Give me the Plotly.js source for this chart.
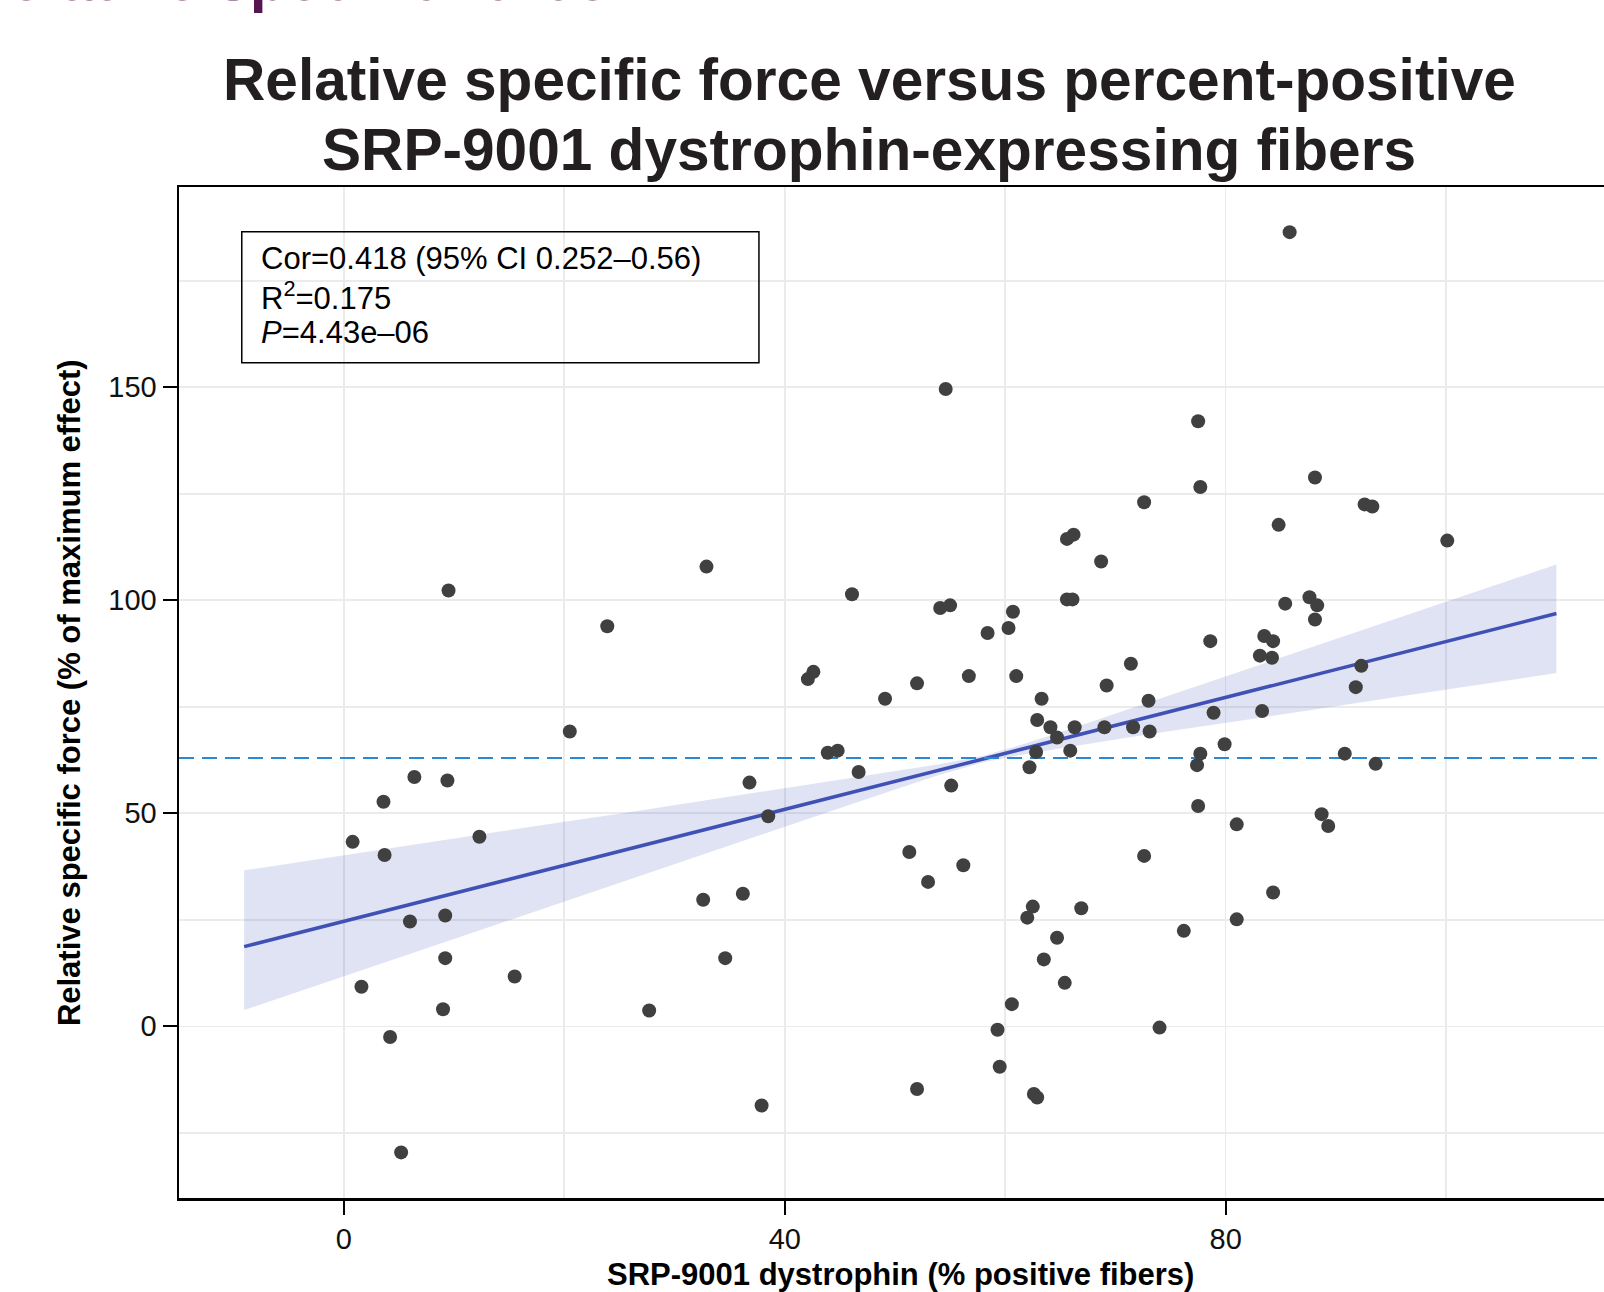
<!DOCTYPE html>
<html>
<head>
<meta charset="utf-8">
<script src="https://cdn.plot.ly/plotly-3.0.1.min.js"></script>
<style>
html,body{margin:0;padding:0;overflow:hidden;background:#fff;width:1604px;height:1292px;}
#chart{position:absolute;left:0;top:-60px;width:1640px;height:1352px;}
</style>
</head>
<body>
<div id="chart"></div>
<script>
// ---- data ----
const ptX = [0.8,1.6,3.6,3.7,4.2,5.2,6.0,6.4,9.0,9.2,9.2,9.4,9.5,12.3,15.5,20.5,23.9,27.7,32.6,32.9,
  34.6,36.2,36.8,37.9,38.5,42.1,42.6,43.9,44.8,46.1,46.7,49.1,51.3,52.0,52.0,53.0,54.1,54.6,55.0,55.1,
  56.2,56.7,58.4,59.3,59.5,60.3,60.6,60.7,61.0,62.0,62.2,62.5,62.6,62.8,62.9,62.9,63.3,63.5,64.1,64.7,
  64.7,65.4,65.6,65.6,65.9,66.1,66.2,66.3,66.9,68.7,69.0,69.2,71.4,71.6,72.6,72.6,73.0,73.1,74.0,76.2,
  77.4,77.5,77.5,77.7,77.7,78.6,78.9,79.9,81.0,81.0,83.1,83.3,83.5,84.3,84.2,84.3,84.8,85.4,85.8,87.6,
  88.1,88.1,88.3,88.7,89.3,90.8,91.8,92.3,92.6,93.3,93.6,100.1];
const ptY = [43.3,9.3,52.7,40.2,-2.5,-29.6,24.6,58.5,4.0,26.0,16.0,57.7,102.3,44.5,11.7,69.2,93.9,3.7,29.7,107.9,
  16.0,31.1,57.2,-18.6,49.3,81.5,83.2,64.2,64.7,101.4,59.7,76.9,40.9,80.5,-14.7,33.9,98.2,149.6,98.8,56.5,
  37.8,82.2,92.3,-0.8,-9.5,93.5,5.2,97.3,82.2,25.5,60.8,28.1,-15.9,64.4,-16.7,71.9,76.9,15.7,70.2,67.8,
  20.8,10.2,114.4,100.2,64.7,100.2,115.4,70.2,27.7,109.1,70.2,80.0,85.1,70.2,123.0,40.0,76.4,69.2,-0.3,22.4,
  61.3,51.7,142.0,126.6,64.0,90.4,73.6,66.2,47.4,25.1,87.0,74.0,91.6,90.4,86.5,31.4,117.7,99.2,186.4,100.7,
  128.8,95.5,98.8,49.8,47.0,64.0,79.6,84.6,122.5,122.0,61.6,114.0];

// fitted line and its confidence band
const fitX = [-9.04, 110.0];
const fitY = [18.7, 96.9];

const bandX  = [-9.04, -5, 0, 5, 10, 15, 20, 25, 30, 35, 40, 45, 50, 54, 58, 62, 66, 70, 75, 80, 85, 90, 95, 100, 105, 110];
const bandLo = [3.8, 7.3, 11.7, 16.1, 20.5, 24.9, 29.3, 33.7, 38.1, 42.5, 46.8, 51.2, 55.6, 59.0, 62.0,
                64.0, 65.7, 67.3, 69.3, 71.2, 73.2, 75.1, 77.1, 79.0, 81.0, 82.9];
const bandHi = [36.6, 38.2, 40.2, 42.1, 44.1, 46.0, 48.0, 49.9, 51.9, 53.8, 55.8, 57.8, 59.8, 61.5, 63.5,
                66.5, 69.9, 73.4, 77.8, 82.1, 86.5, 90.9, 95.3, 99.7, 104.0, 108.4];

const refY = 63.0;

const xTicks = [0, 40, 80];
const yTicks = [0, 50, 100, 150];
const xRange = [-14.95, 115.95];
const yRange = [-40.3, 197.0];

const titleLines = ["Relative specific force versus percent-positive",
                    "SRP-9001 dystrophin-expressing fibers"];
const xTitle = "SRP-9001 dystrophin (% positive fibers)";
const yTitle = "Relative specific force (% of maximum effect)";
const statsLines = ["Cor=0.418 (95% CI 0.252\u20130.56)", "R<sup>2</sup>=0.175", "<i>P</i>=4.43e\u201306"];
const headingText = "Relative specific force";

// ---- drawing ----
const FONT = "Liberation Sans, Arial, Helvetica, sans-serif";
const band = {
  x: bandX.concat(bandX.slice().reverse()),
  y: bandHi.concat(bandLo.slice().reverse()),
  type: 'scatter', mode: 'lines', fill: 'toself',
  fillcolor: 'rgba(63,81,181,0.16)', line: {width: 0}, hoverinfo: 'skip', showlegend: false
};
const fit = {x: fitX, y: fitY, type: 'scatter', mode: 'lines',
  line: {color: '#3F51B5', width: 3.5}, showlegend: false};
const ref = {x: xRange, y: [refY, refY], type: 'scatter', mode: 'lines',
  line: {color: '#2B89D4', width: 2, dash: '15px,8px'}, showlegend: false};
const pts = {x: ptX, y: ptY, type: 'scatter', mode: 'markers',
  marker: {size: 14, color: '#404040'}, showlegend: false};

const axisCommon = {
  showline: true, linecolor: '#000', linewidth: 2.5, mirror: true,
  ticks: 'outside', ticklen: 14, tickwidth: 2, tickcolor: '#000',
  tickfont: {family: FONT, size: 29, color: '#111'},
  showgrid: true, gridcolor: '#EBEBEB', gridwidth: 1.6, zeroline: false
};

const statsY = [0.9291, 0.8922, 0.8560];
const statsAnn = statsLines.map((t, i) => ({
  text: t, xref: 'paper', yref: 'paper', x: 0.0568, y: statsY[i], xanchor: 'left', yanchor: 'middle',
  align: 'left', showarrow: false, borderpad: 0, borderwidth: 0,
  font: {family: FONT, size: 31, color: '#000'}
}));

const layout = {
  width: 1640, height: 1352,
  margin: {l: 179, r: 18, t: 247, b: 94},
  paper_bgcolor: '#fff', plot_bgcolor: '#fff',
  showlegend: false,
  xaxis: Object.assign({}, axisCommon, {
    range: xRange, tickmode: 'array', tickvals: xTicks, ticktext: xTicks.map(String),
    minor: {dtick: 20, tick0: 0, showgrid: true, gridcolor: '#EBEBEB', gridwidth: 1.6}
  }),
  yaxis: Object.assign({}, axisCommon, {
    range: yRange, tickmode: 'array', tickvals: yTicks, ticktext: yTicks.map(String),
    minor: {dtick: 25, tick0: 0, showgrid: true, gridcolor: '#EBEBEB', gridwidth: 1.6}
  }),
  shapes: [{type: 'rect', xref: 'paper', yref: 'paper', x0: 0.0435, x1: 0.4019, y0: 0.8262, y1: 0.9558,
    line: {color: '#000', width: 1.5}, fillcolor: 'rgba(255,255,255,0)'}],
  annotations: [
    {text: titleLines[0], xref: 'paper', yref: 'paper', x: 0.4782, y: 1.1385, xanchor: 'center', yanchor: 'top',
     showarrow: false, borderpad: 0, borderwidth: 0, font: {family: FONT, size: 58.6, color: '#231F20', weight: 'bold'}},
    {text: titleLines[1], xref: 'paper', yref: 'paper', x: 0.4782, y: 1.0692, xanchor: 'center', yanchor: 'top',
     showarrow: false, borderpad: 0, borderwidth: 0, font: {family: FONT, size: 58.6, color: '#231F20', weight: 'bold'}},
    {text: xTitle, xref: 'paper', yref: 'paper', x: 0.5, y: -0.0755, xanchor: 'center', yanchor: 'middle',
     showarrow: false, borderpad: 0, borderwidth: 0, font: {family: FONT, size: 31, color: '#000', weight: 'bold'}},
    {text: yTitle, xref: 'paper', yref: 'paper', x: -0.0758, y: 0.5, xanchor: 'center', yanchor: 'middle', textangle: -90,
     showarrow: false, borderpad: 0, borderwidth: 0, font: {family: FONT, size: 31, color: '#000', weight: 'bold'}},
    {text: headingText, xref: 'paper', yref: 'paper', x: -0.1483, y: 1.1722, xanchor: 'left', yanchor: 'bottom',
     showarrow: false, borderpad: 0, borderwidth: 0, font: {family: FONT, size: 61, color: '#561450', weight: 'bold'}}
  ].concat(statsAnn)
};

Plotly.newPlot('chart', [band, fit, ref, pts], layout, {displayModeBar: false, staticPlot: true});
</script>
</body>
</html>
